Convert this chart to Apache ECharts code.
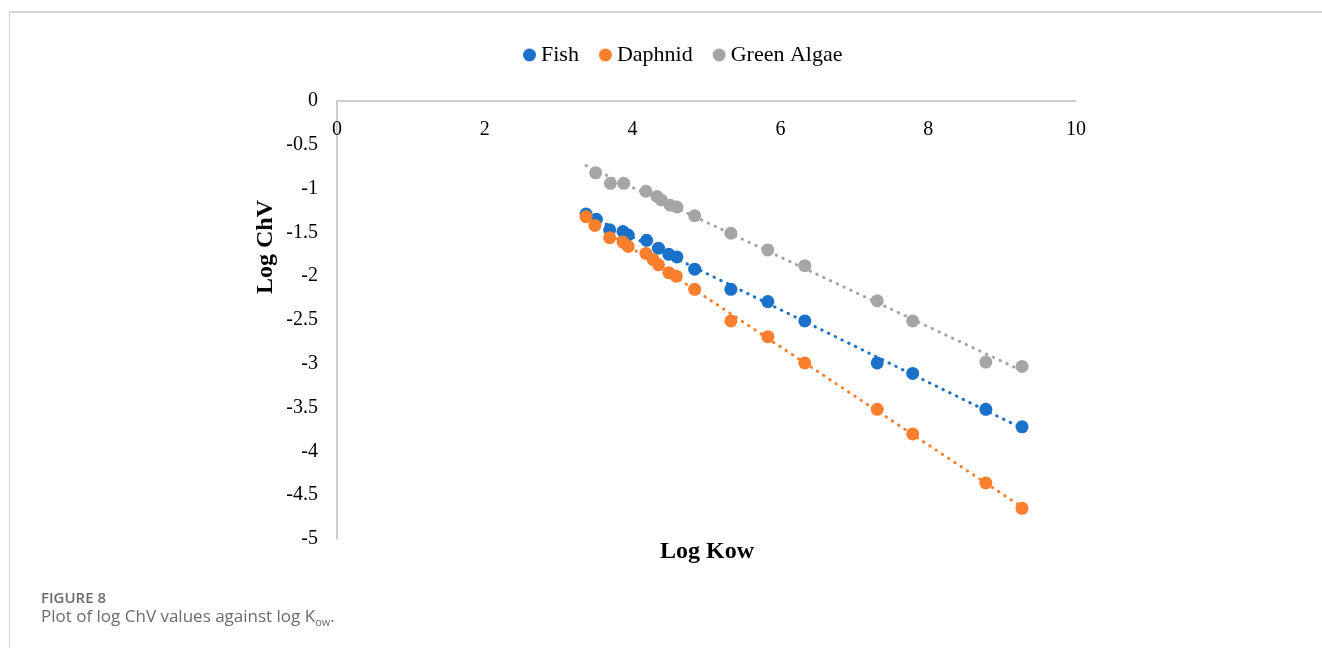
<!DOCTYPE html>
<html>
<head>
<meta charset="utf-8">
<script src="https://cdn.jsdelivr.net/npm/echarts@6/dist/echarts.min.js"></script>
<style>
html,body{margin:0;padding:0;background:#fff;}
#frame{position:absolute;left:9px;top:11px;width:1313px;height:637px;border-top:2px solid #d4d4d4;border-left:1px solid #d4d4d4;box-sizing:border-box;}
#chart{position:absolute;left:0;top:0;width:1322px;height:648px;}
</style>
</head>
<body>
<div id="frame"></div>
<div id="chart"></div>
<script>
// Data (x = log Kow, y = log ChV)
const fishX    = [3.37, 3.51, 3.69, 3.87, 3.94, 4.19, 4.35, 4.49, 4.60, 4.84, 5.33, 5.83, 6.33, 7.31, 7.79, 8.78, 9.27];
const fishY    = [-1.29, -1.35, -1.47, -1.49, -1.53, -1.59, -1.68, -1.75, -1.78, -1.92, -2.15, -2.29, -2.51, -2.99, -3.11, -3.52, -3.72];
const daphX    = [3.37, 3.49, 3.69, 3.87, 3.94, 4.18, 4.28, 4.35, 4.49, 4.59, 4.84, 5.33, 5.83, 6.33, 7.31, 7.79, 8.78, 9.27];
const daphY    = [-1.32, -1.42, -1.56, -1.61, -1.66, -1.74, -1.81, -1.87, -1.96, -2.00, -2.15, -2.51, -2.69, -2.99, -3.52, -3.80, -4.36, -4.65];
const algaeX   = [3.50, 3.70, 3.88, 4.18, 4.33, 4.39, 4.51, 4.60, 4.84, 5.33, 5.83, 6.33, 7.31, 7.79, 8.78, 9.27];
const algaeY   = [-0.82, -0.94, -0.94, -1.03, -1.09, -1.13, -1.19, -1.21, -1.31, -1.51, -1.70, -1.88, -2.28, -2.51, -2.98, -3.03];
const seriesNames = ['Fish', 'Daphnid', 'Green Algae'];
const colors = ['#1a71c9', '#fb7f2c', '#a5a5a5'];
const xTicks = [0, 2, 4, 6, 8, 10];
const yTicks = [0, -0.5, -1, -1.5, -2, -2.5, -3, -3.5, -4, -4.5, -5];

function pairs(xs, ys){ return xs.map((x,i)=>[x, ys[i]]); }
function fitLine(xs, ys, x0, x1){
  const n = xs.length;
  const mx = xs.reduce((a,b)=>a+b,0)/n, my = ys.reduce((a,b)=>a+b,0)/n;
  let sxy=0, sxx=0;
  for(let i=0;i<n;i++){ sxy += (xs[i]-mx)*(ys[i]-my); sxx += (xs[i]-mx)*(xs[i]-mx); }
  const b = sxy/sxx, a = my - b*mx;
  return [[x0, a+b*x0],[x1, a+b*x1]];
}
const allX = fishX.concat(daphX, algaeX);
const xMin = Math.min(...allX), xMax = Math.max(...allX);
const sets = [[fishX, fishY],[daphX, daphY],[algaeX, algaeY]];

const serif = "'Liberation Serif','Times New Roman',serif";
const chart = echarts.init(document.getElementById('chart'), null, {renderer:'canvas'});

const series = [];
sets.forEach((s, i) => {
  series.push({
    name: seriesNames[i] + ' trend', type: 'line', silent: true, z: 1,
    data: fitLine(s[0], s[1], xMin, xMax), symbol: 'none',
    lineStyle: {color: colors[i], width: 3, type: [0.5, 7], cap: 'round'},
    animation: false
  });
});
sets.forEach((s, i) => {
  series.push({
    name: seriesNames[i], type: 'scatter', z: 3,
    data: pairs(s[0], s[1]), symbol: 'circle', symbolSize: 13,
    itemStyle: {color: colors[i], opacity: 1},
    animation: false
  });
});

chart.setOption({
  animation: false,
  legend: {
    data: seriesNames.map(n => ({name: n, icon: 'circle'})),
    top: 39, left: 518, itemWidth: 13, itemHeight: 13, itemGap: 20,
    textStyle: {fontFamily: serif, fontSize: 22, color: '#000'}
  },
  grid: {left: 337, right: 246, top: 101, bottom: 109, containLabel: false},
  xAxis: {
    type: 'value', min: 0, max: 10, interval: 2, position: 'top',
    axisLine: {show: true, onZero: false, lineStyle: {color: '#bfbfbf', width: 1.5}},
    axisTick: {show: false}, splitLine: {show: false},
    axisLabel: {inside: true, fontFamily: serif, fontSize: 20, color: '#000', margin: 19,
      formatter: v => xTicks.includes(v) ? String(v) : ''}
  },
  yAxis: {
    type: 'value', min: -5, max: 0, interval: 0.5,
    axisLine: {show: true, onZero: false, lineStyle: {color: '#bfbfbf', width: 1.5}},
    axisTick: {show: false}, splitLine: {show: false},
    axisLabel: {fontFamily: serif, fontSize: 20, color: '#000', margin: 19,
      formatter: v => { const t = yTicks.find(k => Math.abs(k - v) < 1e-9); return t === undefined ? '' : String(t); }}
  },
  graphic: [
    {type: 'text', x: 266, y: 247, rotation: Math.PI/2, z: 10,
     style: {text: 'Log ChV', font: "bold 24px 'Liberation Serif'", fill: '#000', align: 'center', verticalAlign: 'middle'}},
    {type: 'text', x: 707, y: 552, z: 10,
     style: {text: 'Log Kow', font: "bold 24px 'Liberation Serif'", fill: '#000', align: 'center', verticalAlign: 'middle'}},
    {type: 'text', left: 41, top: 591, z: 10,
     style: {text: 'FIGURE 8', font: "600 15px 'Open Sans'", fill: '#6b6b6b'}},
    {type: 'text', left: 41, top: 609, z: 10,
     style: {text: '{a|Plot of log ChV values against log K}{s|ow}{a|.}', fill: '#6b6b6b',
       rich: {a: {fontFamily: 'Open Sans', fontSize: 17, fill: '#6b6b6b'},
              s: {fontFamily: 'Open Sans', fontSize: 11, fill: '#6b6b6b', padding: [10,0,0,0]}}}}
  ],
  series: series
});
</script>
</body>
</html>
